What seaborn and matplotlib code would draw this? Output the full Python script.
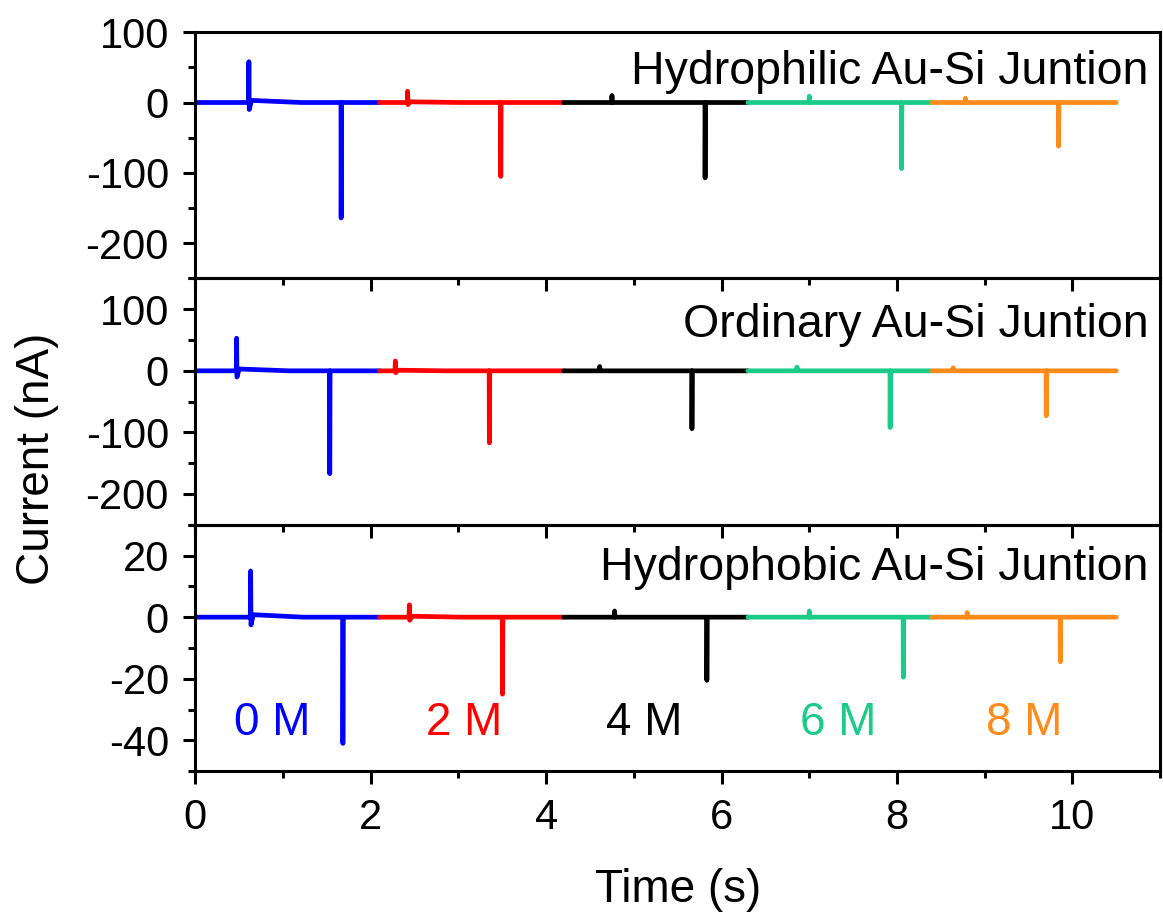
import numpy as np
import pandas as pd
import matplotlib.pyplot as plt
import seaborn as sns
from matplotlib.ticker import MultipleLocator

# concentrations and their time windows
conc = ["0 M", "2 M", "4 M", "6 M", "8 M"]
colors = ["#0000FF", "#FF0000", "#000000", "#1BCB88", "#FF8C1A"]
seg_start = [0.0, 2.1, 4.2, 6.3, 8.4]
seg_end = [2.1, 4.2, 6.3, 8.4, 10.5]

# hydrophilic junction: contact (positive) and release (negative) spikes
philic_pos_t = [0.61, 2.42, 4.75, 7.00, 8.78]
philic_pos_i = [58, 16, 10, 9, 6]
philic_dip_i = [-10, -3, 0, 0, 0]
philic_neg_t = [1.66, 3.48, 5.81, 8.05, 9.84]
philic_neg_i = [-164, -105, -107, -94, -62]

# ordinary junction
ordinary_pos_t = [0.47, 2.28, 4.61, 6.86, 8.64]
ordinary_pos_i = [53, 16, 7, 6, 5]
ordinary_dip_i = [-10, -3, 0, 0, 0]
ordinary_neg_t = [1.53, 3.35, 5.66, 7.92, 9.70]
ordinary_neg_i = [-167, -117, -94, -92, -73]

# hydrophobic junction
phobic_pos_t = [0.63, 2.44, 4.78, 7.00, 8.80]
phobic_pos_i = [15, 4, 2, 2, 1.5]
phobic_dip_i = [-2.5, -1, 0, 0, 0]
phobic_neg_t = [1.68, 3.50, 5.83, 8.07, 9.86]
phobic_neg_i = [-41, -25, -20.5, -19.5, -14.5]

# baseline offset just after the contact spike
after_i = [[3, 1, 0, 0, 0], [3, 1, 0, 0, 0], [0.8, 0.3, 0, 0, 0]]

panels = [
    ("Hydrophilic Au-Si Juntion", philic_pos_t, philic_pos_i, philic_dip_i, philic_neg_t, philic_neg_i),
    ("Ordinary Au-Si Juntion", ordinary_pos_t, ordinary_pos_i, ordinary_dip_i, ordinary_neg_t, ordinary_neg_i),
    ("Hydrophobic Au-Si Juntion", phobic_pos_t, phobic_pos_i, phobic_dip_i, phobic_neg_t, phobic_neg_i),
]
ylims = [(-250, 100), (-250, 150), (-50, 30)]
ymajor = [100, 100, 20]
label_y = [0.84, 0.81, 0.825]


def trace(pos_t, pos_i, dip_i, neg_t, neg_i, after):
    rows = []
    for k in range(5):
        pts = [
            (seg_start[k], 0),
            (pos_t[k] - 0.004, 0),
            (pos_t[k], pos_i[k]),
            (pos_t[k] + 0.004, dip_i[k]),
            (pos_t[k] + 0.03, after[k]),
            (pos_t[k] + 0.6, 0),
            (neg_t[k], 0),
            (neg_t[k] + 0.002, neg_i[k]),
            (neg_t[k] + 0.006, 0),
            (seg_end[k], 0),
        ]
        for t, i in pts:
            rows.append({"t": t, "i": i, "conc": conc[k]})
    return pd.DataFrame(rows)


sns.set_style("ticks")
plt.rcParams["font.family"] = ["Liberation Sans", "DejaVu Sans"]
plt.rcParams["axes.unicode_minus"] = False
plt.rcParams["text.color"] = "black"
plt.rcParams["axes.labelcolor"] = "black"
plt.rcParams["xtick.color"] = "black"
plt.rcParams["ytick.color"] = "black"
plt.rcParams["axes.edgecolor"] = "black"

fig, axes = plt.subplots(3, 1, figsize=(11.63, 9.18), dpi=100, sharex=True)
fig.subplots_adjust(left=0.168, right=0.9975, top=0.965, bottom=0.16, hspace=0)

for n, ax in enumerate(axes):
    name, pt, pi, di, nt, ni = panels[n]
    df = trace(pt, pi, di, nt, ni, after_i[n])
    sns.lineplot(data=df, x="t", y="i", hue="conc", hue_order=conc,
                 palette=colors, sort=False, estimator=None, legend=False,
                 linewidth=3.4, ax=ax)
    ax.set_facecolor("none")
    ax.set_zorder(3 - n)
    ax.set_ylim(*ylims[n])
    ax.set_xlim(0, 11)
    ax.yaxis.set_major_locator(MultipleLocator(ymajor[n]))
    ax.yaxis.set_minor_locator(MultipleLocator(ymajor[n] / 2))
    ax.xaxis.set_major_locator(MultipleLocator(2))
    ax.xaxis.set_minor_locator(MultipleLocator(1))
    ax.tick_params(which="major", direction="out", length=9, width=2.2,
                   labelsize=30, pad=6)
    ax.tick_params(axis="y", which="major", pad=10)
    ax.tick_params(which="minor", direction="out", length=5, width=2.2)
    for s in ax.spines.values():
        s.set_linewidth(2.2)
        s.set_visible(True)
    ax.set_xlabel("")
    ax.set_ylabel("")
    ax.text(0.988, label_y[n], name, transform=ax.transAxes, ha="right",
            va="center", fontsize=33.5)

# concentration labels in the bottom panel
label_x = [0.88, 3.06, 5.12, 7.33, 9.45]
for k in range(5):
    axes[2].text(label_x[k], -34.5, conc[k], color=colors[k], ha="center",
                 va="center", fontsize=33)

axes[2].tick_params(axis="x", which="major", pad=10)
axes[2].set_xlabel("Time (s)", fontsize=33, labelpad=22)
fig.text(0.032, 0.5, "Current (nA)", rotation=90, ha="center", va="center",
         fontsize=33)

plt.savefig("out.png", dpi=100)
